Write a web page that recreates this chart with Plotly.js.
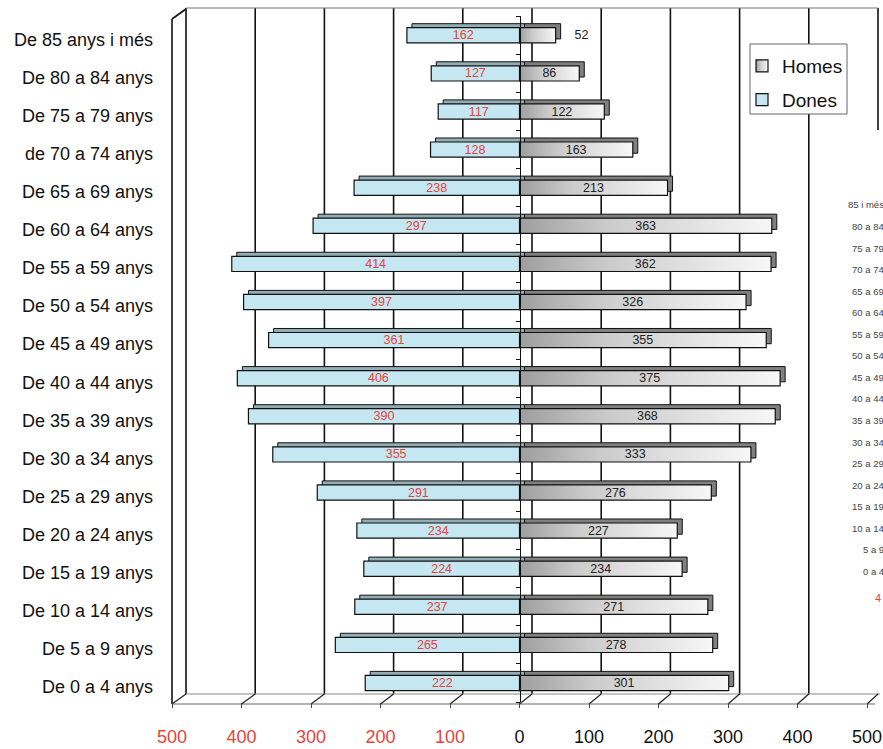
<!DOCTYPE html>
<html>
<head>
<meta charset="utf-8">
<script src="https://cdn.plot.ly/plotly-3.0.1.min.js"></script>
<style>html,body{margin:0;padding:0;background:#fff;}#chart{width:883px;height:749px;}</style>
</head>
<body>
<div id="chart"></div>
<script>
// ---------- data ----------
const categories = ["De 0 a 4 anys","De 5 a 9 anys","De 10 a 14 anys","De 15 a 19 anys","De 20 a 24 anys","De 25 a 29 anys","De 30 a 34 anys","De 35 a 39 anys","De 40 a 44 anys","De 45 a 49 anys","De 50 a 54 anys","De 55 a 59 anys","De 60 a 64 anys","De 65 a 69 anys","de 70 a 74 anys","De 75 a 79 anys","De 80 a 84 anys","De 85 anys i més"];
const homes = [301,278,271,234,227,276,333,368,375,355,326,362,363,213,163,122,86,52];
const dones = [222,265,237,224,234,291,355,390,406,361,397,414,297,238,128,117,127,162];
const tickValues = [-500,-400,-300,-200,-100,0,100,200,300,400,500];
const tickLabels = ["500","400","300","200","100","0","100","200","300","400","500"];
const ghostLabels = ["85 i més","80 a 84","75 a 79","70 a 74","65 a 69","60 a 64","55 a 59","50 a 54","45 a 49","40 a 44","35 a 39","30 a 34","25 a 29","20 a 24","15 a 19","10 a 14","5 a 9","0 a 4"];
const ghostRedLabel = "4";

// ---------- geometry helpers (pixels -> paper) ----------
const W = 883, H = 749;
const px = x => x / W, py = y => 1 - y / H;
const FRONT_L = 172, FRONT_R = 867, BACK_L = 186, BACK_R = 878;
const TOP_Y = 8, FLOOR_BACK = 694, FLOOR_FRONT = 704;
const PLOT_TOP = 16.25, PLOT_BOT = 702.05;
const DX = 5, DY = 4;
const frontX = v => FRONT_L + (v + 500) / 1000 * (FRONT_R - FRONT_L);
const backX = v => BACK_L + (v + 500) / 1000 * (BACK_R - BACK_L);

const RED = '#e5443c';
const FONT = 'Liberation Sans, Arial, sans-serif';
const HOMES_SENTINEL = 'rgb(208, 208, 209)';

const negDones = dones.map(v => -v);
const barW = 0.4;

const traces = [
  { type:'bar', orientation:'h', y:categories, x:homes, xaxis:'x2', yaxis:'y2', width:barW,
    marker:{color:'#808080', line:{color:'#111', width:1}}, showlegend:false, hoverinfo:'skip' },
  { type:'bar', orientation:'h', y:categories, x:negDones, xaxis:'x2', yaxis:'y2', width:barW,
    marker:{color:'#93adb5', line:{color:'#111', width:1}}, showlegend:false, hoverinfo:'skip' },
  { type:'bar', orientation:'h', name:'Homes', legendgroup:'h', y:categories, x:homes, xaxis:'x3', yaxis:'y3', width:barW,
    marker:{color:HOMES_SENTINEL, line:{color:'#111', width:1.2}},
    text:homes.map(v => v < 60 ? '\u2003 ' + v : String(v)),
    textposition:homes.map(v => v < 60 ? 'outside' : 'inside'),
    insidetextanchor:'middle', textangle:0, cliponaxis:false, constraintext:'none',
    textfont:{family:FONT, size:12.5, color:'#222'}, outsidetextfont:{family:FONT, size:12.5, color:'#222'} },
  { type:'bar', orientation:'h', name:'Dones', legendgroup:'d', y:categories, x:negDones, xaxis:'x3', yaxis:'y3', width:barW,
    marker:{color:'#c4e7f1', line:{color:'#111', width:1.2}},
    text:dones.map(String), textposition:'inside', insidetextanchor:'middle', textangle:0, constraintext:'none',
    textfont:{family:FONT, size:12.5, color:RED} }
];

// ---------- decoration shapes (3D box) ----------
const shapes = [];
const line = (x0,y0,x1,y1,color,width) => shapes.push({type:'line', xref:'paper', yref:'paper',
  x0:px(x0), y0:py(y0), x1:px(x1), y1:py(y1), line:{color:color, width:width}, layer:'below'});
tickValues.forEach(v => { if (v < 500) line(backX(v), TOP_Y, backX(v), FLOOR_BACK, '#111', 1.6); });
line(backX(500), TOP_Y, backX(500), 130, '#111', 1.6);
line(BACK_L, TOP_Y, BACK_R, TOP_Y, '#777', 1);
line(FRONT_L, 19, FRONT_L, FLOOR_FRONT, '#111', 1.6);
line(FRONT_L, 19, BACK_L, TOP_Y + 1, '#111', 1.6);
line(BACK_L, FLOOR_BACK, BACK_R + 2, FLOOR_BACK, '#888', 1);
line(FRONT_L, FLOOR_FRONT, FRONT_R + 8, FLOOR_FRONT, '#666', 1);
tickValues.forEach(v => line(frontX(v), FLOOR_FRONT, backX(v), FLOOR_BACK, '#222', 1.2));
// legend box
shapes.push({type:'rect', xref:'paper', yref:'paper', x0:px(750), x1:px(847), y0:py(44), y1:py(114),
  fillcolor:'#fff', line:{color:'#666', width:1}, layer:'above'});

// ---------- ghost text on right edge ----------
const annotations = ghostLabels.map((t,k) => ({xref:'paper', yref:'paper', x:px(886), y:py(205 + 21.55*k),
  xanchor:'right', yanchor:'middle', text:t, showarrow:false, font:{family:FONT, size:9.5, color:'#444'}}));
annotations.push({xref:'paper', yref:'paper', x:px(883), y:py(598), xanchor:'right', yanchor:'middle',
  text:ghostRedLabel, showarrow:false, font:{family:FONT, size:11, color:RED}});

const frontDomY = [py(PLOT_BOT), py(PLOT_TOP)];
const shadowDomY = [py(PLOT_BOT - DY), py(PLOT_TOP - DY)];

const layout = {
  width:W, height:H, autosize:false,
  margin:{l:0, r:0, t:0, b:0, pad:0},
  paper_bgcolor:'#fff', plot_bgcolor:'rgba(0,0,0,0)',
  font:{family:FONT, color:'#111'},
  barmode:'overlay',
  showlegend:true,
  legend:{x:px(742), y:py(47), xanchor:'left', yanchor:'top', bgcolor:'rgba(0,0,0,0)', borderwidth:0,
    font:{family:FONT, size:19, color:'#111'}, traceorder:'grouped', tracegroupgap:6},
  xaxis2:{domain:[px(FRONT_L + DX), px(FRONT_R + DX)], range:[-500,500], anchor:'y2', visible:false, fixedrange:true},
  yaxis2:{domain:shadowDomY, type:'category', categoryorder:'array', categoryarray:categories, range:[-0.5,17.5],
    anchor:'free', position:px(FRONT_L), showline:false, showgrid:false, zeroline:false, ticks:'',
    ticklabelstandoff:19, ticklabelshift:8, tickfont:{family:FONT, size:18, color:'#111'}, fixedrange:true},
  xaxis3:{domain:[px(FRONT_L), px(FRONT_R)], range:[-500,500], anchor:'y3', showgrid:false, zeroline:false, showline:false,
    tickmode:'array', tickvals:tickValues,
    ticktext:tickLabels.map((t,i) => tickValues[i] < 0 ? '<span style="color:' + RED + '">' + t + '</span>' : t),
    ticks:'outside', ticklen:5, tickcolor:'#444', ticklabelstandoff:13,
    tickfont:{family:FONT, size:18, color:'#111'}, fixedrange:true},
  yaxis3:{domain:frontDomY, type:'category', categoryorder:'array', categoryarray:categories, range:[-0.5,17.5],
    anchor:'free', position:px(frontX(0)), showline:true, linecolor:'#111', linewidth:1.2,
    ticks:'outside', tickson:'boundaries', ticklen:4, tickcolor:'#111', showticklabels:false,
    showgrid:false, zeroline:false, fixedrange:true},
  shapes:shapes,
  annotations:annotations
};

Plotly.newPlot('chart', traces, layout, {staticPlot:true, displayModeBar:false}).then(gd => {
  const svg = gd.querySelector('svg.main-svg');
  let defs = svg.querySelector('defs');
  const NS = 'http://www.w3.org/2000/svg';
  const grad = document.createElementNS(NS, 'linearGradient');
  grad.setAttribute('id', 'homesGrad');
  grad.setAttribute('x1', '0'); grad.setAttribute('x2', '1'); grad.setAttribute('y1', '0'); grad.setAttribute('y2', '0');
  [['0', '#9e9e9e'], ['0.35', '#cbcbcb'], ['1', '#f7f7f7']].forEach(s => {
    const st = document.createElementNS(NS, 'stop');
    st.setAttribute('offset', s[0]); st.setAttribute('stop-color', s[1]);
    grad.appendChild(st);
  });
  defs.appendChild(grad);
  gd.querySelectorAll('path').forEach(p => {
    if (p.style.fill === HOMES_SENTINEL) p.style.fill = 'url(#homesGrad)';
  });
});
</script>
</body>
</html>
